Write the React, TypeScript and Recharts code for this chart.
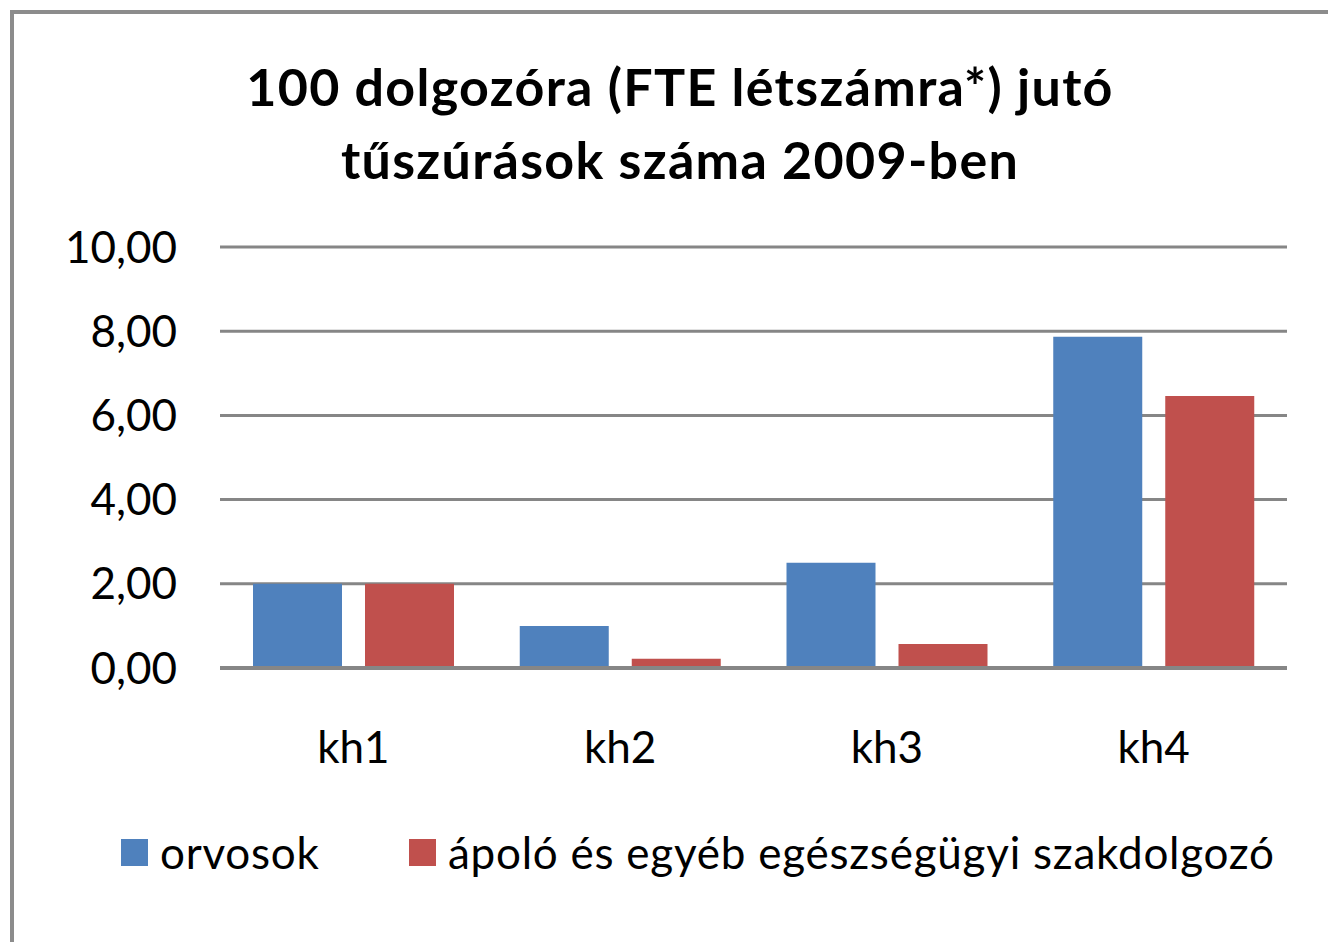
import React from 'react';
import { BarChart, Bar, XAxis, YAxis, CartesianGrid } from 'recharts';

const categories = ['kh1', 'kh2', 'kh3', 'kh4'];
const orvosok = [2.0, 1.0, 2.5, 7.87];
const apolo = [2.0, 0.22, 0.57, 6.46];
const yTicks = [0, 2, 4, 6, 8, 10];
const seriesNames = ['orvosok', 'ápoló és egyéb egészségügyi szakdolgozó'];
const titleLines = ['100 dolgozóra (FTE létszámra*) jutó', 'tűszúrások száma 2009-ben'];

const COLORS = ['#4F81BD', '#C0504D'];
const FONT = 'Lato, "Open Sans", sans-serif';

const data = categories.map((name, i) => ({
  name,
  orvosok: orvosok[i],
  apolo: apolo[i],
}));

const fmt = (v: number) => v.toFixed(2).replace('.', ',');

const App: React.FC = () => {
  return (
    <div
      style={{
        position: 'absolute',
        left: 0,
        top: 0,
        width: 1328,
        height: 942,
        overflow: 'hidden',
        background: '#fff',
        fontFamily: FONT,
      }}
    >
      {/* chart frame, runs off the right and bottom edges */}
      <div
        style={{
          position: 'absolute',
          left: 10,
          top: 10,
          width: 1400,
          height: 1000,
          border: '4px solid #8c8c8c',
          boxSizing: 'border-box',
        }}
      />

      <div
        style={{
          position: 'absolute',
          left: 0,
          top: 50,
          width: 1360,
          textAlign: 'center',
          fontWeight: 700,
          fontSize: 52,
          letterSpacing: 1.3,
          lineHeight: '73px',
          color: '#000',
        }}
      >
        {titleLines.map((t) => (
          <div key={t}>{t}</div>
        ))}
      </div>

      <div style={{ position: 'absolute', left: 0, top: 0 }}>
        <BarChart
          width={1328}
          height={942}
          data={data}
          margin={{ top: 247, right: 41, bottom: 154, left: 0 }}
          barSize={89}
          barGap={23}
        >
          <CartesianGrid vertical={false} stroke="#868686" strokeWidth={3} />
          <XAxis
            dataKey="name"
            height={120}
            axisLine={{ stroke: '#868686', strokeWidth: 4 }}
            tickLine={false}
            tickSize={0}
            tickMargin={64}
            tick={{ fill: '#000', fontSize: 44, fontFamily: FONT }}
          />
          <YAxis
            width={220}
            domain={[0, 10]}
            ticks={yTicks}
            tickFormatter={fmt}
            axisLine={false}
            tickLine={false}
            tickSize={0}
            tickMargin={43}
            tick={{ fill: '#000', fontSize: 44, fontFamily: FONT }}
          />
          <Bar dataKey="orvosok" name={seriesNames[0]} fill={COLORS[0]} isAnimationActive={false} />
          <Bar dataKey="apolo" name={seriesNames[1]} fill={COLORS[1]} isAnimationActive={false} />
        </BarChart>
      </div>

      {/* legend */}
      {seriesNames.map((name, i) => (
        <div
          key={name}
          style={{
            position: 'absolute',
            left: i === 0 ? 121 : 409,
            top: 827,
            height: 50,
            display: 'flex',
            alignItems: 'center',
            fontSize: 44,
            letterSpacing: 0.75,
            color: '#000',
            whiteSpace: 'nowrap',
          }}
        >
          <span
            style={{
              display: 'inline-block',
              width: 27,
              height: 27,
              background: COLORS[i],
              marginRight: 12,
            }}
          />
          <span>{name}</span>
        </div>
      ))}
    </div>
  );
};

export default App;
